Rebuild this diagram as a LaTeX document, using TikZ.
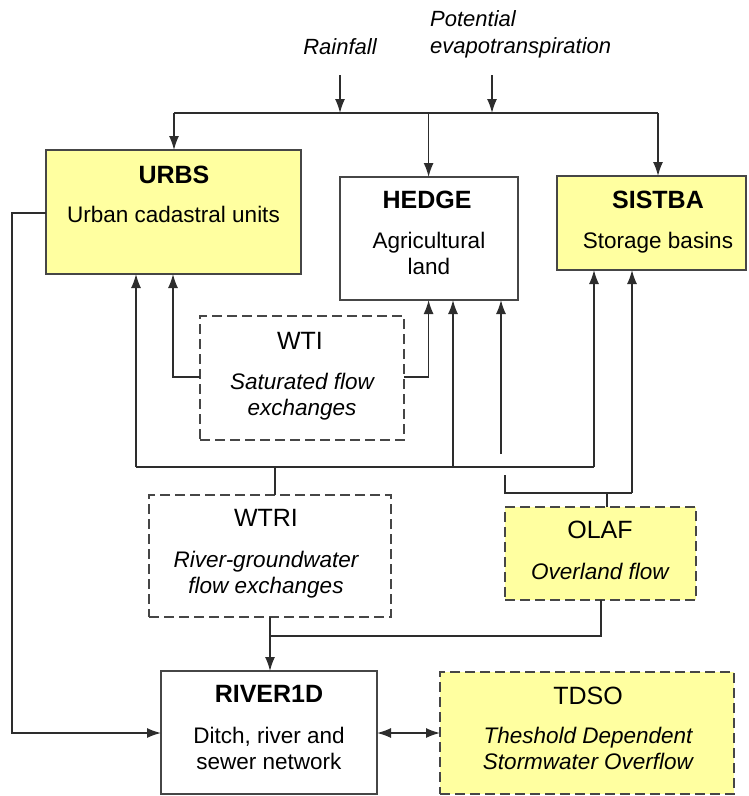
\documentclass[tikz,border=0pt]{standalone}
\usepackage{fontspec}
\setmainfont{Liberation Sans}
\usetikzlibrary{arrows.meta,calc}
\definecolor{boxyellow}{RGB}{255,255,160}
\definecolor{linegray}{RGB}{45,45,45}
\definecolor{bordergray}{RGB}{70,70,70}
\begin{document}
\begin{tikzpicture}[x=1pt,y=-1pt,
  box/.style={draw=bordergray,line width=1.7pt,inner sep=0pt,outer sep=0pt},
  ybox/.style={box,fill=boxyellow},
  dbox/.style={box,dash pattern=on 10pt off 5pt},
  btitle/.style={font=\fontsize{25}{30}\selectfont\bfseries,anchor=base,inner sep=0pt},
  ntitle/.style={font=\fontsize{25}{30}\selectfont,anchor=base,inner sep=0pt},
  sub/.style={font=\fontsize{22.5}{26}\selectfont,align=center,anchor=north,inner sep=0pt},
  isub/.style={font=\fontsize{22.5}{26}\selectfont\itshape,align=center,anchor=north,inner sep=0pt},
  conn/.style={draw=linegray,line width=1.5pt},
  arr/.style={conn,-{Latex[length=14pt,width=10pt]}},
  darr/.style={conn,{Latex[length=14pt,width=10pt]}-{Latex[length=14pt,width=10pt]}}
]
\useasboundingbox (0,0) rectangle (749,796);

% boxes
\node[ybox,minimum width=255,minimum height=124] (urbs) at (173.5,212) {};
\node[box,fill=white,minimum width=178,minimum height=123] (hedge) at (429,238.5) {};
\node[ybox,minimum width=189,minimum height=94] (sistba) at (651.5,223) {};
\node[dbox,minimum width=204,minimum height=124] (wti) at (302,378) {};
\node[dbox,minimum width=242,minimum height=122] (wtri) at (270,556) {};
\node[dbox,fill=boxyellow,minimum width=191,minimum height=93] (olaf) at (600.5,553.5) {};
\node[box,minimum width=216,minimum height=123] (river) at (269,732.5) {};
\node[dbox,fill=boxyellow,minimum width=294,minimum height=122] (tdso) at (587,733) {};

% texts
\node[btitle] (urbsT) at (174,183) {URBS};
\node[sub] (urbsS) at (173.5,205.6) {Urban cadastral units};
\node[btitle] (hedgeT) at (427,208) {HEDGE};
\node[sub] (hedgeS) at (429,231.6) {Agricultural\\land};
\node[btitle] (sistbaT) at (658,208) {SISTBA};
\node[sub] (sistbaS) at (658,231.6) {Storage basins};
\node[ntitle] (wtiT) at (300,349) {WTI};
\node[isub] (wtiS) at (302,372.6) {Saturated flow\\exchanges};
\node[ntitle] (wtriT) at (266,526) {WTRI};
\node[isub] (wtriS) at (266,550.6) {River-groundwater\\flow exchanges};
\node[ntitle] (olafT) at (600,538) {OLAF};
\node[isub] (olafS) at (600,562.6) {Overland flow};
\node[btitle] (riverT) at (269,702) {RIVER1D};
\node[sub] (riverS) at (269,726.6) {Ditch, river and\\sewer network};
\node[ntitle] (tdsoT) at (588,704) {TDSO};
\node[isub] (tdsoS) at (588,726.6) {Theshold Dependent\\Stormwater Overflow};

\node[font=\fontsize{22}{27}\selectfont\itshape,anchor=base,inner sep=0pt] (rain) at (340,54) {Rainfall};
\node[font=\fontsize{22}{27}\selectfont\itshape,align=left,anchor=north west,inner sep=0pt] (pet) at (430,10) {Potential\\evapotranspiration};

% top inputs
\coordinate (rainS) at (340,75);
\coordinate (petS) at (492,75);
\coordinate (busL) at (174,113);
\coordinate (busR) at (658,113);
\coordinate (busH) at (428.6,113);
\draw[arr] (rainS) -- (340,113);
\draw[arr] (petS) -- (492,113);
\draw[conn] (busL) -- (busR);
\draw[arr] (busL) -- (busL |- urbs.north);
\draw[arr] (busH) -- (busH |- hedge.north);
\draw[arr] (busR) -- (busR |- sistba.north);

% URBS to RIVER1D
\coordinate (lefttop) at (12,213);
\coordinate (leftbot) at (12,733);
\draw[arr] (urbs.west |- lefttop) -- (lefttop) -- (leftbot) -- (river.west |- leftbot);

% WTI
\draw[arr] (wti.west |- 0,377) -| (173,0 |- urbs.south);
\draw[arr] (wti.east |- 0,377) -| (428.6,0 |- hedge.south);

% lower bus
\coordinate (lbL) at (136,467);
\coordinate (lbR) at (594,467);
\draw[conn] (lbL) -- (lbR);
\draw[arr] (lbL) -- (lbL |- urbs.south);
\draw[arr] (lbR) -- (lbR |- sistba.south);
\draw[arr] (453,467) -- (453,0 |- hedge.south);
\draw[conn] (wtri.north -| 275,0) -- (275,467);

% OLAF upward
\coordinate (obL) at (505,493);
\coordinate (obR) at (632,493);
\draw[conn] (olaf.north -| 607,0) -- (607,493);
\draw[conn] (505,475) -- (obL) -- (obR);
\draw[arr] (obR) -- (obR |- sistba.south);
\draw[arr] (501,454) -- (501,0 |- hedge.south);

% to RIVER1D
\coordinate (rj) at (270,636);
\draw[conn] (olaf.south -| 601,0) -- (601,636) -- (rj);
\draw[arr] (wtri.south -| rj) -- (rj) -- (rj |- river.north);

% RIVER1D <-> TDSO
\draw[darr] (river.east |- 0,733) -- (tdso.west |- 0,733);
\end{tikzpicture}
\end{document}
